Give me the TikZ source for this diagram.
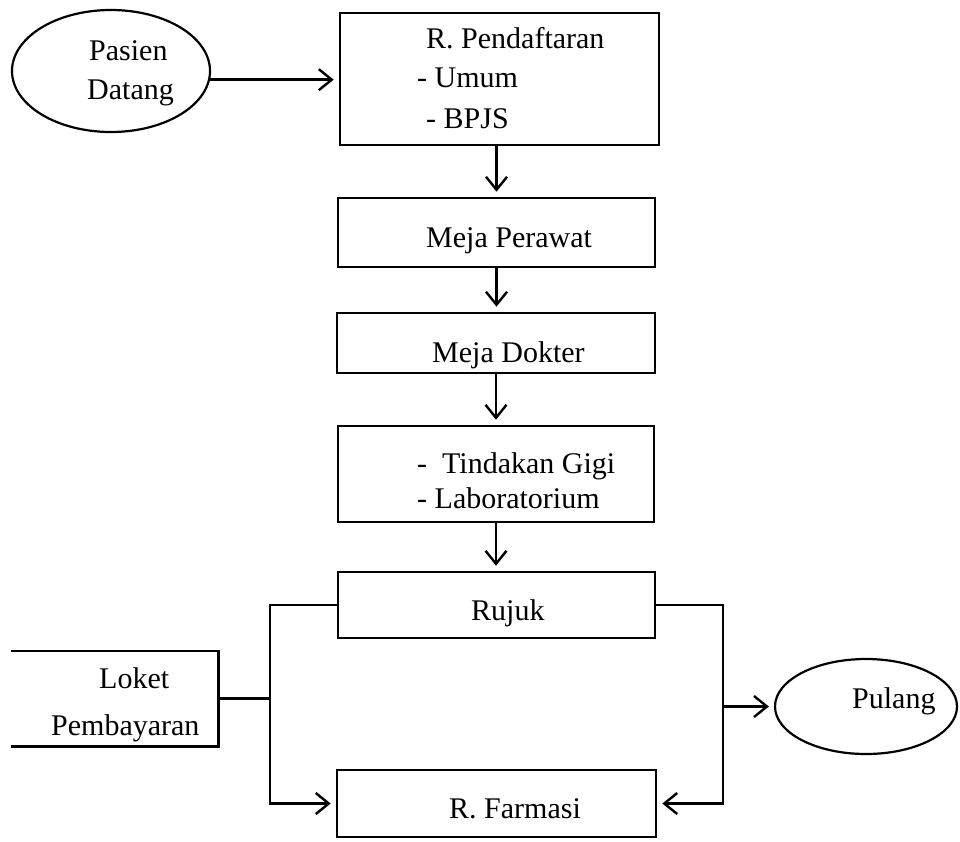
\documentclass[tikz,border=0pt]{standalone}
\usepackage{fontspec}
\setmainfont{Liberation Serif}
\usetikzlibrary{shapes.geometric,arrows.meta,calc}
\begin{document}
\begin{tikzpicture}[x=1pt,y=-1pt,
  box/.style={draw,line width=2.6pt,rectangle,inner sep=0pt},
  oval/.style={draw,line width=2.2pt,ellipse,inner sep=0pt},
  lbl/.style={anchor=base west,inner sep=0pt,font=\fontsize{30}{36}\selectfont},
  arr/.style={line width=2.4pt,-{Straight Barb[length=13pt,width=21pt,line width=2.4pt]},shorten >=5pt},
  ln/.style={line width=2.4pt}]
\useasboundingbox (0,0) rectangle (960,841);

% shapes
\node[oval,minimum width=198pt,minimum height=122pt] (pasien) at (111,71) {};
\node[box,minimum width=319pt,minimum height=132pt] (pend) at (499.5,79) {};
\node[box,minimum width=317pt,minimum height=69pt] (perawat) at (496.5,232.5) {};
\node[box,minimum width=318pt,minimum height=60pt] (dokter) at (496,343) {};
\node[box,minimum width=316pt,minimum height=96pt] (tindakan) at (496,474) {};
\node[box,minimum width=317pt,minimum height=66pt] (rujuk) at (496.5,605) {};
\node[box,minimum width=319pt,minimum height=67pt] (farmasi) at (496.5,803.5) {};
\node[inner sep=0pt,minimum width=207pt,minimum height=95pt] (loket) at (114.5,698.5) {};
\draw[line width=2.6pt] (loket.north west) -- (loket.north east) -- (loket.south east) -- (loket.south west);
\node[oval,minimum width=182pt,minimum height=95pt] (pulang) at (866,706.5) {};

% texts
\node[lbl] (tpas1) at (89,60) {Pasien};
\node[lbl] (tpas2) at (87,99) {Datang};
\node[lbl] (tpend1) at (426,48) {R. Pendaftaran};
\node[lbl] (tpend2) at (417,87) {- Umum};
\node[lbl] (tpend3) at (426,128) {- BPJS};
\node[lbl] (tper) at (426,247) {Meja Perawat};
\node[lbl] (tdok) at (432,362) {Meja Dokter};
\node[lbl] (ttin1) at (417,473) {-\ \ Tindakan Gigi};
\node[lbl] (ttin2) at (417,508) {- Laboratorium};
\node[lbl] (truj) at (471,620) {Rujuk};
\node[lbl] (tfar) at (449,818) {R. Farmasi};
\node[lbl] (tpul) at (852,708) {Pulang};
\node[lbl] (tlok1) at (99,688) {Loket};
\node[lbl] (tlok2) at (51,735) {Pembayaran};

% connectors
\draw[arr] (pasien.-5) -- (pasien.-5 -| pend.west);
\draw[arr] (perawat.north |- pend.south) -- (perawat.north);
\draw[arr] (perawat.south) -- (perawat.south |- dokter.north);
\draw[arr] (dokter.south) -- (dokter.south |- tindakan.north);
\draw[arr] (tindakan.south) -- (tindakan.south |- rujuk.north);

\coordinate (lj) at (270,605);
\coordinate (rj) at (723,605);
\draw[arr] (rujuk.west) -- (lj) |- (farmasi.west);
\draw[ln] (loket.east) -- (loket.east -| lj);
\draw[arr] (rujuk.east) -- (rj) |- (farmasi.east);
\draw[arr] (rj |- pulang.west) -- (pulang.west);
\end{tikzpicture}
\end{document}
